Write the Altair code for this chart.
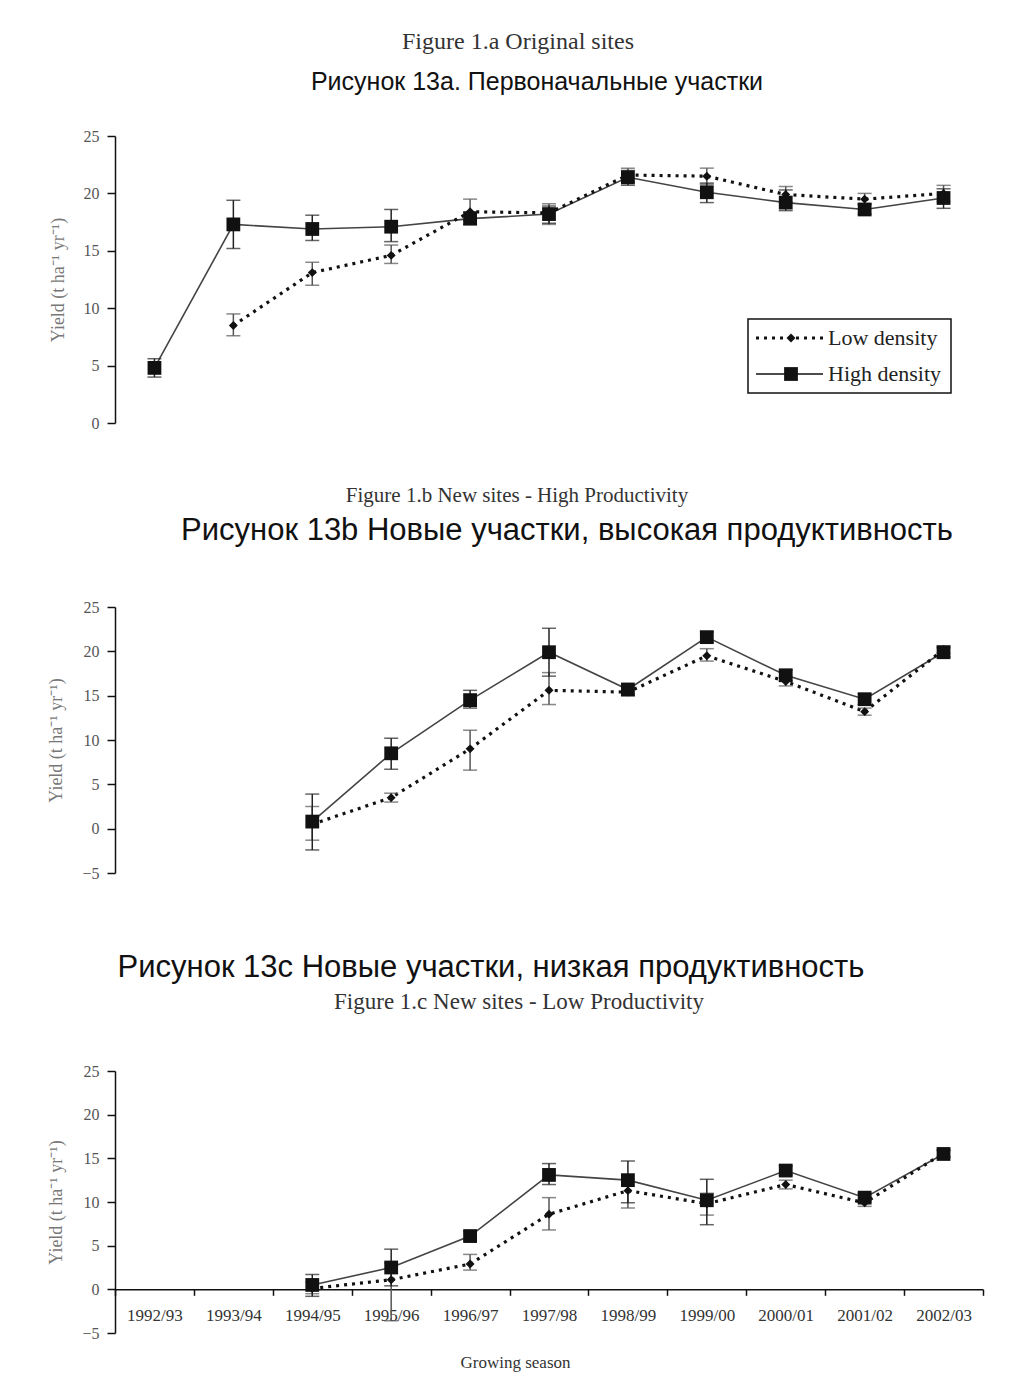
import altair as alt
import pandas as pd

seasons = ["1992/93", "1993/94", "1994/95", "1995/96", "1996/97", "1997/98",
           "1998/99", "1999/00", "2000/01", "2001/02", "2002/03"]
series_names = ["Low density", "High density"]

# Figure 1.a Original sites
a_high = [4.8, 17.3, 16.9, 17.1, 17.8, 18.2, 21.4, 20.1, 19.2, 18.6, 19.6]
a_high_lo = [4.0, 15.2, 15.9, 15.8, 17.3, 17.4, 20.7, 19.2, 18.5, 18.2, 18.7]
a_high_hi = [5.6, 19.4, 18.1, 18.6, 18.4, 18.9, 22.0, 20.9, 20.3, 19.1, 20.4]
a_low = [None, 8.5, 13.1, 14.6, 18.4, 18.3, 21.6, 21.5, 19.9, 19.5, 20.0]
a_low_lo = [None, 7.6, 12.0, 13.9, 17.6, 17.3, 21.0, 20.8, 19.2, 19.0, 19.3]
a_low_hi = [None, 9.5, 14.0, 15.5, 19.5, 19.1, 22.2, 22.2, 20.6, 20.0, 20.7]

# Figure 1.b New sites - High Productivity
b_high = [None, None, 0.8, 8.5, 14.5, 19.9, 15.7, 21.6, 17.3, 14.6, 19.9]
b_high_lo = [None, None, -2.4, 6.7, 13.6, 17.2, 15.2, 21.0, 16.7, 14.0, 19.4]
b_high_hi = [None, None, 3.9, 10.2, 15.6, 22.6, 16.2, 22.2, 17.9, 15.2, 20.4]
b_low = [None, None, 0.5, 3.5, 9.0, 15.6, 15.4, 19.5, 16.6, 13.2, 20.2]
b_low_lo = [None, None, -1.3, 3.0, 6.6, 14.0, 15.0, 18.9, 16.1, 12.8, 19.8]
b_low_hi = [None, None, 2.5, 4.0, 11.1, 17.6, 15.9, 20.3, 17.1, 13.6, 20.6]

# Figure 1.c New sites - Low Productivity
c_high = [None, None, 0.5, 2.5, 6.1, 13.1, 12.5, 10.2, 13.6, 10.5, 15.5]
c_high_lo = [None, None, -0.8, 0.4, 5.6, 12.0, 9.9, 7.4, 13.1, 10.0, 15.1]
c_high_hi = [None, None, 1.7, 4.6, 6.6, 14.4, 14.7, 12.6, 14.1, 11.0, 15.9]
c_low = [None, None, 0.1, 1.1, 2.9, 8.6, 11.3, 9.8, 12.0, 9.9, 15.6]
c_low_lo = [None, None, -0.5, -3.6, 2.2, 6.8, 9.3, 8.5, 11.5, 9.5, 15.2]
c_low_hi = [None, None, 0.8, 3.0, 4.0, 10.5, 12.6, 11.0, 12.5, 10.3, 16.0]

y_title = "Yield (t ha\u207b\u00b9 yr\u207b\u00b9)"
SERIF = "Liberation Serif"
SANS = "Liberation Sans"


def long_df(high, high_lo, high_hi, low, low_lo, low_hi):
    rows = []
    for i, s in enumerate(seasons):
        if low[i] is not None:
            rows.append(dict(season=s, series=series_names[0], value=low[i], lo=low_lo[i], hi=low_hi[i]))
        if high[i] is not None:
            rows.append(dict(season=s, series=series_names[1], value=high[i], lo=high_lo[i], hi=high_hi[i]))
    return pd.DataFrame(rows)


def text_layer(txt, x, y, font, size, color):
    return alt.Chart(alt.Data(values=[{"t": txt}])).mark_text(
        font=font, fontSize=size, color=color, align="center", baseline="middle"
    ).encode(text="t:N", x=alt.value(x), y=alt.value(y))


def panel(df, height, ymin, show_x, titles, legend=False):
    if show_x:
        x_axis = alt.Axis(title="Growing season", tickBand="extent", offset=-height * (0 - ymin) / (25 - ymin),
                          labelAngle=0, labelFont=SERIF, labelFontSize=17, labelColor="#333",
                          tickColor="#111", tickSize=6, tickWidth=1.5, domainColor="#111", domainWidth=1.5,
                          labelPadding=12, titleFont=SERIF, titleFontSize=17, titleColor="#333",
                          titleFontWeight="normal", titlePadding=31, titleX=400, grid=False)
    else:
        x_axis = None
    xs = alt.Scale(domain=seasons, type="band", paddingInner=0, paddingOuter=0)
    x_enc = alt.X("season:N", sort=seasons, scale=xs, axis=x_axis)
    y_axis = alt.Axis(values=list(range(ymin, 26, 5)), title=y_title, titleFont=SERIF, titleFontSize=18,
                      titleColor="#777", titleFontWeight="normal", labelFont=SERIF, labelFontSize=16,
                      labelColor="#555", tickSize=8, tickColor="#111", tickWidth=1.5, domainColor="#111",
                      domainWidth=1.5, grid=False, labelPadding=8, titlePadding=16)
    ys = alt.Scale(domain=[ymin, 25], nice=False, zero=False)

    def Y(field):
        return alt.Y(field, scale=ys, axis=y_axis)

    base = alt.Chart(df)
    low = base.transform_filter(alt.datum.series == series_names[0])
    high = base.transform_filter(alt.datum.series == series_names[1])

    layers = []
    layers.append(high.mark_line(color="#444", strokeWidth=1.6).encode(x=x_enc, y=Y("value:Q")))
    layers.append(low.mark_line(color="#111", strokeWidth=3.2, strokeDash=[3, 5], strokeCap="butt").encode(
        x=x_enc, y=Y("value:Q")))
    for sub, col in ((low, "#555"), (high, "#222")):
        layers.append(sub.mark_rule(color=col, strokeWidth=1.5).encode(x=x_enc, y=Y("lo:Q"), y2=alt.Y2("hi:Q")))
        layers.append(sub.mark_tick(color=col, size=14, thickness=1.5).encode(x=x_enc, y=Y("lo:Q")))
        layers.append(sub.mark_tick(color=col, size=14, thickness=1.5).encode(x=x_enc, y=Y("hi:Q")))
    layers.append(low.mark_point(shape="diamond", filled=True, size=80, color="#111", opacity=1).encode(
        x=x_enc, y=Y("value:Q")))
    layers.append(high.mark_square(size=190, color="#111", opacity=1).encode(x=x_enc, y=Y("value:Q")))

    for (txt, x, y, font, size, color) in titles:
        layers.append(text_layer(txt, x, y, font, size, color))

    if legend:
        one = alt.Data(values=[{"k": 1}])
        layers.append(alt.Chart(one).mark_rect(fill="white", stroke="#111", strokeWidth=1.5).encode(
            x=alt.value(633), x2=alt.value(836), y=alt.value(183), y2=alt.value(257)))
        layers.append(alt.Chart(one).mark_rule(color="#111", strokeWidth=3.2, strokeDash=[3, 5]).encode(
            x=alt.value(641), x2=alt.value(708), y=alt.value(202)))
        layers.append(alt.Chart(one).mark_rule(color="#111", strokeWidth=1.5).encode(
            x=alt.value(641), x2=alt.value(708), y=alt.value(238)))
        layers.append(alt.Chart(one).mark_point(shape="diamond", filled=True, size=80, color="#111",
                                                opacity=1).encode(x=alt.value(676), y=alt.value(202)))
        layers.append(alt.Chart(one).mark_square(size=190, color="#111", opacity=1).encode(
            x=alt.value(676), y=alt.value(238)))
        for lab, yy in zip(series_names, (202, 238)):
            layers.append(alt.Chart(alt.Data(values=[{"t": lab}])).mark_text(
                font=SERIF, fontSize=22, color="#222", align="left", baseline="middle").encode(
                text="t:N", x=alt.value(713), y=alt.value(yy)))

    return alt.layer(*layers).properties(width=868, height=height)


pA = panel(long_df(a_high, a_high_lo, a_high_hi, a_low, a_low_lo, a_low_hi), 287, 0, False,
           [("Figure 1.a Original sites", 403, -94, SERIF, 24, "#333"),
            ("Рисунок 13а. Первоначальные участки", 422, -54, SANS, 25, "#111")], legend=True)
pB = panel(long_df(b_high, b_high_lo, b_high_hi, b_low, b_low_lo, b_low_hi), 266, -5, False,
           [("Figure 1.b New sites - High Productivity", 402, -111, SERIF, 21, "#333"),
            ("Рисунок 13b Новые участки, высокая продуктивность", 452, -76, SANS, 31, "#111")])
pC = panel(long_df(c_high, c_high_lo, c_high_hi, c_low, c_low_lo, c_low_hi), 262, -5, True,
           [("Рисунок 13с Новые участки, низкая продуктивность", 376, -103, SANS, 31, "#111"),
            ("Figure 1.c New sites - Low Productivity", 404, -69, SERIF, 23, "#333")])

inner = alt.vconcat(pB, pC, spacing=71)
chart = alt.vconcat(pA, inner, spacing=54).properties(
    padding={"left": 39, "top": 22, "right": 5, "bottom": 2},
    background="white",
).configure_view(stroke="transparent", strokeWidth=0)

chart.save("out.html", embed_options={"renderer": "svg", "actions": False})
